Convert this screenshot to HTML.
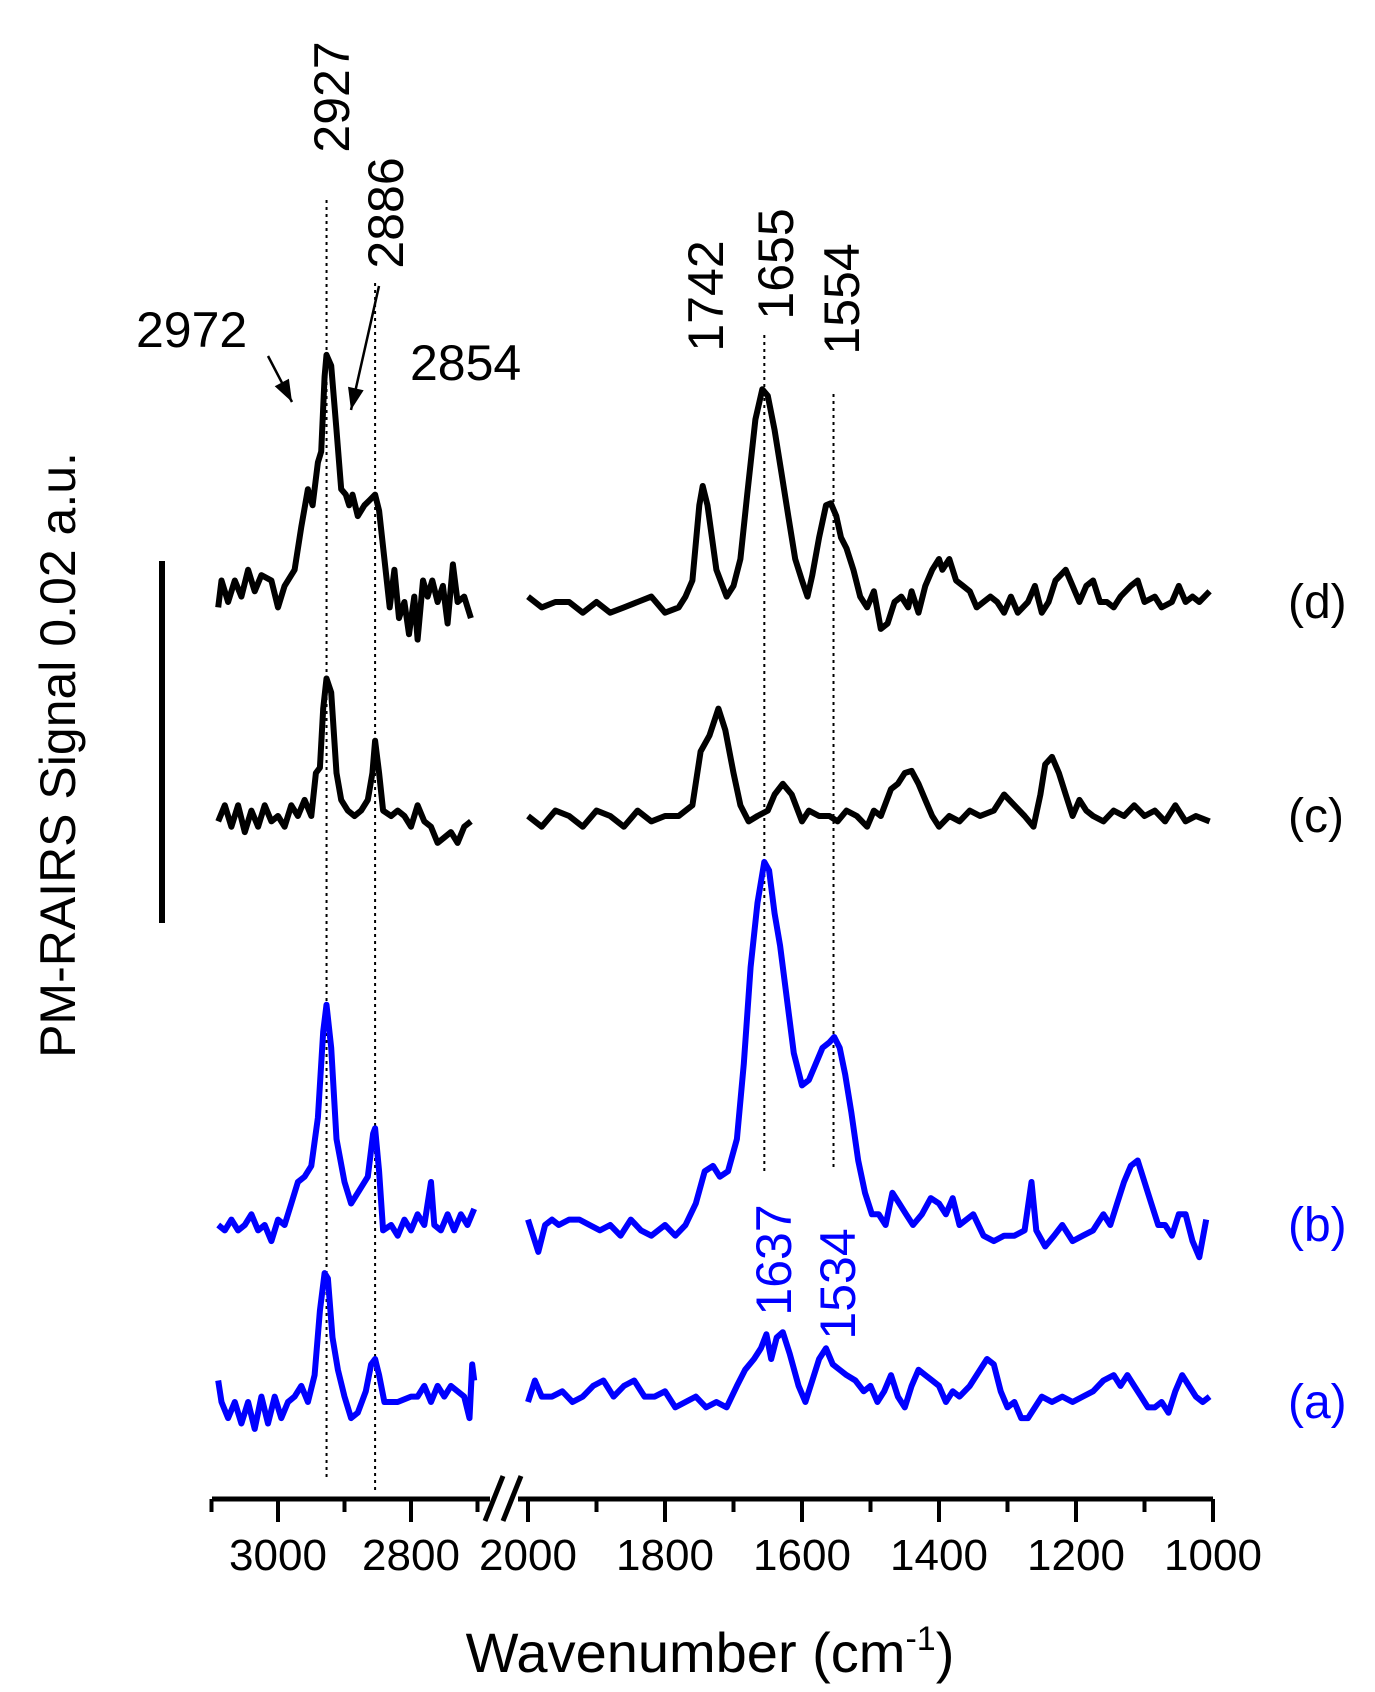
<!DOCTYPE html>
<html><head><meta charset="utf-8"><style>
html,body{margin:0;padding:0;background:#fff;}
svg{display:block;font-family:"Liberation Sans",Arial,sans-serif;}
</style></head><body>
<svg id="chart" width="1375" height="1692" viewBox="0 0 1375 1692" xmlns="http://www.w3.org/2000/svg">
<g id="plot"></g>
</svg>
<script>
// ---- data (wavenumber cm-1, relative signal) ----
const tickLabelsLeft = [3000, 2800];
const tickLabelsRight = [2000, 1800, 1600, 1400, 1200, 1000];
const seriesNames = ["(d)", "(c)", "(b)", "(a)"];
const seriesOffsets = [602, 816, 1225, 1402];

const dWn = [3090,3085,3075,3065,3055,3045,3035,3025,3010,3000,2990,2975,2965,2955,2948,2940,2935,2930,2927,2920,2912,2905,2898,2893,2888,2880,2870,2862,2854,2848,2840,2832,2825,2818,2810,2803,2795,2790,2782,2775,2768,2760,2752,2745,2737,2730,2720,2710,
2000,1980,1960,1940,1920,1900,1880,1860,1840,1820,1800,1780,1770,1760,1750,1745,1738,1725,1710,1700,1690,1680,1668,1658,1650,1640,1630,1620,1610,1600,1592,1585,1575,1565,1558,1550,1543,1535,1525,1515,1505,1495,1485,1475,1465,1455,1445,1440,1430,1420,1410,1400,1395,1385,1375,1365,1355,1345,1335,1325,1315,1305,1295,1285,1270,1260,1250,1240,1230,1215,1205,1195,1185,1175,1165,1155,1145,1135,1120,1110,1100,1085,1075,1060,1050,1040,1030,1020,1005];
const dVal = [-5,20,0,20,5,30,10,25,20,-5,15,30,70,105,90,130,140,210,230,220,160,105,100,90,100,80,90,95,100,85,40,-5,30,-15,0,-30,5,-35,20,5,20,0,15,-20,35,0,5,-15,
5,-5,0,0,-10,0,-10,-5,0,5,-10,-5,5,20,90,108,90,30,5,15,40,100,170,198,192,160,120,80,40,20,5,25,60,90,92,80,60,50,30,5,-5,10,-25,-20,0,5,-5,10,-10,15,30,40,30,40,20,15,10,-5,0,5,0,-10,5,-10,0,15,-10,0,20,30,15,0,15,20,0,0,-5,5,15,20,0,5,-5,0,15,0,5,0,10];

const cWn = [3090,3080,3070,3060,3050,3040,3030,3020,3010,3000,2990,2980,2970,2960,2950,2943,2937,2932,2927,2920,2912,2905,2895,2885,2875,2865,2858,2854,2848,2842,2830,2820,2810,2800,2790,2780,2770,2760,2750,2740,2730,2720,2710,
2000,1980,1960,1940,1920,1900,1880,1860,1840,1820,1800,1780,1760,1748,1735,1722,1712,1700,1690,1678,1665,1650,1640,1628,1615,1600,1590,1575,1560,1548,1535,1520,1505,1495,1485,1470,1460,1450,1440,1430,1420,1410,1400,1385,1370,1355,1340,1320,1305,1290,1275,1262,1252,1245,1235,1225,1215,1205,1195,1185,1175,1160,1145,1130,1115,1100,1085,1070,1055,1040,1025,1005];
const cVal = [-5,10,-10,10,-15,5,-10,10,-5,0,-10,10,0,15,0,40,45,100,128,115,40,15,5,0,5,15,40,70,40,5,0,5,0,-10,10,-5,-10,-25,-20,-15,-25,-10,-5,
0,-10,5,0,-10,5,0,-10,5,-5,0,0,10,60,75,100,80,40,10,-5,0,5,20,30,20,-5,5,0,0,-5,5,0,-10,5,0,25,30,40,42,30,15,0,-10,0,-5,5,0,5,20,10,0,-10,20,48,55,40,20,0,15,5,0,-5,5,0,10,0,5,-5,10,-5,0,-5];

const bWn = [3090,3080,3070,3060,3050,3040,3030,3020,3010,3000,2990,2980,2970,2960,2950,2940,2932,2927,2920,2912,2900,2890,2880,2865,2857,2854,2848,2842,2830,2820,2810,2800,2790,2780,2770,2765,2755,2745,2735,2725,2715,2705,
2000,1985,1975,1965,1955,1940,1925,1910,1895,1880,1865,1850,1835,1820,1800,1785,1770,1755,1742,1730,1720,1708,1695,1685,1675,1665,1655,1648,1640,1632,1624,1612,1600,1590,1580,1570,1560,1553,1545,1537,1528,1518,1508,1498,1488,1478,1468,1458,1448,1438,1425,1412,1400,1390,1380,1370,1360,1350,1335,1320,1305,1290,1275,1265,1258,1245,1232,1220,1205,1190,1175,1160,1150,1140,1130,1120,1110,1100,1090,1080,1070,1060,1050,1040,1030,1020,1010];
const bVal = [0,-5,5,-5,0,10,-5,0,-15,5,0,20,40,45,55,100,180,205,165,80,40,20,30,45,85,90,50,-5,0,-10,5,-5,10,0,40,0,-5,10,-5,10,0,15,
5,-25,0,5,0,5,5,0,-5,0,-10,5,-5,-10,0,-10,0,20,50,55,45,50,80,150,240,300,338,330,290,260,220,160,130,135,150,165,170,175,165,140,105,60,30,10,10,0,30,20,10,0,10,25,20,10,25,0,5,10,-10,-15,-10,-10,-5,40,-5,-20,-10,0,-15,-10,-5,10,0,20,40,55,60,40,20,0,0,-10,10,10,-15,-30,5];

const aWn = [3090,3085,3075,3065,3055,3045,3035,3025,3015,3005,2995,2985,2975,2965,2955,2945,2937,2930,2925,2918,2910,2900,2890,2880,2868,2860,2854,2848,2840,2820,2800,2790,2780,2770,2760,2750,2740,2730,2720,2712,2708,2705,
2000,1990,1980,1965,1950,1935,1920,1905,1890,1875,1860,1845,1830,1815,1800,1785,1770,1755,1740,1725,1710,1695,1683,1670,1660,1652,1645,1637,1628,1618,1605,1595,1585,1575,1565,1555,1545,1535,1522,1510,1500,1490,1480,1470,1460,1450,1440,1430,1420,1410,1400,1390,1380,1370,1355,1340,1330,1320,1310,1300,1290,1280,1270,1260,1250,1235,1220,1205,1190,1175,1160,1145,1135,1125,1115,1105,1095,1085,1075,1065,1055,1045,1035,1025,1015,1005];
const aVal = [20,0,-15,0,-20,0,-25,5,-20,5,-15,0,5,15,0,25,85,120,115,60,30,5,-15,-10,10,35,40,25,0,0,5,5,15,0,15,5,15,10,5,-15,35,20,
0,20,5,5,10,0,5,15,20,5,15,20,5,5,10,-5,0,5,-5,0,-5,15,30,40,50,63,40,60,65,45,15,0,20,40,50,35,30,25,20,10,15,0,10,25,5,-5,15,30,25,20,15,0,10,5,15,30,40,35,10,-5,0,-15,-15,-5,5,0,5,0,5,10,20,25,15,25,15,5,-5,-5,0,-10,10,25,15,5,0,5];

const seriesWn = [dWn, cWn, bWn, aWn];
const seriesVal = [dVal, cVal, bVal, aVal];
const seriesColors = ["#000", "#000", "#0000ff", "#0000ff"];
const seriesIds = ["d", "c", "b", "a"];

// ---- axis functions ----
const AXIS_Y = 1499, K = 1.0742;
function xScale(w){ return w > 2300 ? 278 + (3000 - w) * 0.665 : 528 + (2000 - w) * 0.685; }
function yScale(v, off){ return off - v * K; }

const NS = "http://www.w3.org/2000/svg";
const plot = document.getElementById("plot");
function mk(tag, attrs, parent){ const e = document.createElementNS(NS, tag); for (const k in attrs) e.setAttribute(k, attrs[k]); (parent||plot).appendChild(e); return e; }

// dotted guide lines
const guides = [[2927,200,1480],[2854,283,1494],[1655,335,1171],[1554,394,1171]];
guides.forEach(g => {
  const l = mk("line", {x1:xScale(g[0]), x2:xScale(g[0]), y1:g[1], y2:g[2], stroke:"#000", "stroke-width":2, "stroke-dasharray":"3,4"});
  
  
});

// series
seriesWn.forEach((wn, si) => {
  const vals = seriesVal[si];
  let dl = "", dr = "";
  wn.forEach((w, i) => {
    const pt = xScale(w).toFixed(1) + "," + yScale(vals[i], seriesOffsets[si]).toFixed(1);
    if (w > 2300) dl += (dl ? "L" : "M") + pt; else dr += (dr ? "L" : "M") + pt;
  });
  const g = mk("g", {});
  
  
  [dl, dr].forEach((d, k) => {
    const p = mk("path", {d:d, fill:"none", stroke:seriesColors[si], "stroke-width":6, "stroke-linejoin":"round"}, g);
    
    
  });
  const t = mk("text", {x:1288, y:seriesOffsets[si] + 16, "font-size":48, fill:seriesColors[si]});
  t.textContent = seriesNames[si];
  
  
});

// x axis
const ax = mk("line", {x1:212, x2:1213, y1:AXIS_Y, y2:AXIS_Y, stroke:"#000", "stroke-width":5});


const tickWns = [3100,3000,2900,2800,2700,2000,1900,1800,1700,1600,1500,1400,1300,1200,1100,1000];
tickWns.forEach(w => {
  const major = tickLabelsLeft.includes(w) || tickLabelsRight.includes(w);
  const t = mk("line", {x1:xScale(w), x2:xScale(w), y1:AXIS_Y, y2:AXIS_Y + (major ? 23 : 13), stroke:"#000", "stroke-width":4});
  
  
});
tickLabelsLeft.concat(tickLabelsRight).forEach(w => {
  const t = mk("text", {x:xScale(w), y:1570, "font-size":44, "text-anchor":"middle"});
  t.textContent = w;
  
  
});
// axis break
const br = mk("rect", {x:490, y:1492, width:28, height:14, fill:"#fff"});


[[503,485],[521,503]].forEach((s, i) => {
  const l = mk("line", {x1:s[0], y1:1476, x2:s[1], y2:1521, stroke:"#000", "stroke-width":5});
  
  
});
</script>
<script>
(function(){
const NS = "http://www.w3.org/2000/svg";
const svg = document.getElementById("chart");
function mk(tag, attrs){ const e = document.createElementNS(NS, tag); for (const k in attrs) e.setAttribute(k, attrs[k]); svg.appendChild(e); return e; }
function rtext(txt, cx, cy, color, name){
  const t = mk("text", {x:0, y:0, "font-size":50, "text-anchor":"middle", fill:color, transform:"translate(" + (cx + 17) + "," + cy + ") rotate(-90)"});
  t.textContent = txt;
  
  
}
rtext("2927", 332, 97, "#000", "peak-label-2927");
rtext("2886", 386, 213, "#000", "peak-label-2886");
rtext("1742", 706, 296, "#000", "peak-label-1742");
rtext("1655", 776, 264, "#000", "peak-label-1655");
rtext("1554", 842, 299, "#000", "peak-label-1554");
rtext("1637", 774, 1260, "#0000ff", "peak-label-1637");
rtext("1534", 838, 1284, "#0000ff", "peak-label-1534");
let t = mk("text", {x:136, y:347, "font-size":50});
t.textContent = "2972";


t = mk("text", {x:410, y:380, "font-size":50});
t.textContent = "2854";


// arrows
[[268,356,292,402,'arrow-2972'],[379,286,351,410,'arrow-2886']].forEach(a => {
  const l = mk("line", {x1:a[0], y1:a[1], x2:a[2], y2:a[3], stroke:"#000", "stroke-width":2.5});
  
  
  const ang = Math.atan2(a[3]-a[1], a[2]-a[0]);
  const L = 22, W = 8;
  const bx = a[2] - L*Math.cos(ang), by = a[3] - L*Math.sin(ang);
  const px = -Math.sin(ang)*W, py = Math.cos(ang)*W;
  const h = mk("polygon", {points: a[2]+","+a[3]+" "+(bx+px)+","+(by+py)+" "+(bx-px)+","+(by-py), fill:"#000"});
  
  
});
// scale bar
const sb = mk("line", {x1:162, x2:162, y1:561, y2:923, stroke:"#000", "stroke-width":6});


// y title
t = mk("text", {x:0, y:0, "font-size":50, "text-anchor":"middle", transform:"translate(75,755) rotate(-90)"});
t.textContent = "PM-RAIRS Signal 0.02 a.u.";


// x title
t = mk("text", {x:710, y:1672, "font-size":56, "text-anchor":"middle"});
t.innerHTML = 'Wavenumber (cm<tspan dy="-22" font-size="34">-1</tspan><tspan dy="22">)</tspan>';


})();
</script>
</body></html>
